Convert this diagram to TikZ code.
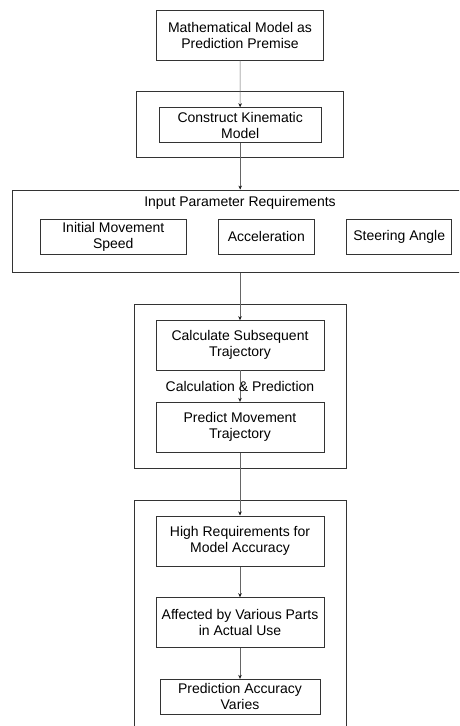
\documentclass[tikz,border=0pt]{standalone}
\usepackage{fontspec}
\setmainfont{Liberation Sans}
\usetikzlibrary{arrows.meta}

\begin{document}
\begin{tikzpicture}[x=1pt,y=-1pt,
  box/.style={draw=drawColor,line width=0.9pt,inner sep=0pt,align=center,
    font=\fontsize{14}{16}\selectfont},
  frame/.style={draw=drawColor,line width=1.0pt,inner sep=0pt},
  flow/.style={draw=lineColor,line width=0.6pt,
    -{Stealth[length=4pt,width=3.5pt,color=tipColor]}}]
\definecolor{fillColor}{RGB}{255,255,255}
\definecolor{drawColor}{gray}{0.20}
\definecolor{lineColor}{gray}{0.40}
\definecolor{tipColor}{gray}{0.10}
\path[use as bounding box,fill=fillColor] (0,0) rectangle (459,726);
\begin{scope}
\path[clip] (0,0) rectangle (459,726);

% outer frames
\node[frame,minimum width=206.6pt,minimum height=65.6pt] (kinFrame) at (240,124.5) {};
\node[frame,minimum width=457.7pt,minimum height=82.3pt] (inputFrame) at (241.2,231.2) {};
\node[frame,minimum width=212pt,minimum height=164pt] (calcFrame) at (240,386.3) {};
\node[frame,minimum width=212pt,minimum height=245pt] (accFrame) at (240,622.5) {};

% boxes
\node[box,minimum width=166.7pt,minimum height=50pt] (premise) at (240,35) {Mathematical Model as\\Prediction Premise};
\node[box,minimum width=161.7pt,minimum height=34.6pt] (kin) at (240.2,125) {Construct Kinematic\\Model};

\node[box,draw=none] (inputTitle) at (240,203.3) {Input Parameter Requirements};
\node[box,minimum width=146.7pt,minimum height=34.7pt] (speed) at (113.3,236.7) {Initial Movement\\Speed};
\node[box,minimum width=96pt,minimum height=34.7pt] (accel) at (266.3,236.7) {Acceleration};
\node[box,minimum width=105pt,minimum height=34.7pt] (steer) at (399.2,236.7) {Steering Angle};

\node[box,minimum width=168pt,minimum height=49.3pt] (calc) at (240,345.3) {Calculate Subsequent\\Trajectory};
\node[box,minimum width=168pt,minimum height=50pt] (predict) at (240,427.3) {Predict Movement\\Trajectory};

\node[box,minimum width=168pt,minimum height=50.7pt] (high) at (240,541.3) {High Requirements for\\Model Accuracy};
\node[box,minimum width=168pt,minimum height=50pt] (affected) at (240,622.7) {Affected by Various Parts\\in Actual Use};
\node[box,minimum width=160pt,minimum height=35pt] (varies) at (240,696.8) {Prediction Accuracy\\Varies};

% connectors
\draw[flow] (premise) -- (kin);
\draw[flow] (kin) -- (kin.south |- inputFrame.north);
\draw[flow] (calc.north |- inputFrame.south) -- (calc);
\draw[flow] (calc) -- node[box,draw=none] (calcLabel) {Calculation \& Prediction} (predict);
\draw[flow] (predict) -- (high);
\draw[flow] (high) -- (affected);
\draw[flow] (affected) -- (varies);
\end{scope}
\end{tikzpicture}
\end{document}
